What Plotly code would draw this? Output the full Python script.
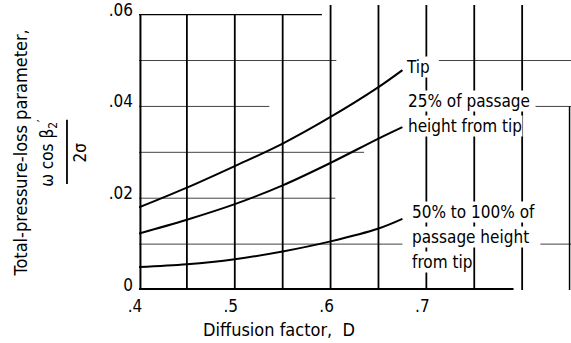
import plotly.graph_objects as go

# ---- data ----
D = [0.40, 0.45, 0.50, 0.55, 0.60, 0.65, 0.675]
tip = [0.0180, 0.0223, 0.0270, 0.0319, 0.0377, 0.0442, 0.0479]
p25 = [0.0123, 0.0153, 0.0187, 0.0228, 0.0277, 0.0330, 0.0355]
p50 = [0.0050, 0.0056, 0.0067, 0.0084, 0.0106, 0.0134, 0.0155]

x_ticks = [0.4, 0.5, 0.6, 0.7]
x_tick_text = [".4", ".5", ".6", ".7"]
y_ticks = [0, 0.02, 0.04, 0.06]
y_tick_text = ["0", ".02", ".04", ".06"]

# grid lines (value, segments)
h_grid = [
    (0.05, [(0.40, 0.606), (0.713, 0.851)]),
    (0.04, [(0.40, 0.536), (0.814, 0.851)]),
    (0.03, [(0.40, 0.635)]),
    (0.02, [(0.40, 0.605)]),
    (0.01, [(0.40, 0.675), (0.819, 0.851)]),
]
v_grid = [0.45, 0.50, 0.55, 0.60, 0.65, 0.70, 0.75, 0.80]

labels = [
    (0.6776, 0.0486, ["Tip"]),
    (0.680, 0.0384, ["25% of passage", "height from tip"]),
    (0.684, 0.01150, ["50% to 100% of", "passage height", "from tip"]),
]

FONT = "DejaVu Sans Condensed, Liberation Sans Narrow, Arial Narrow, sans-serif"
YMAX = 0.0621

fig = go.Figure()
for ys in (tip, p25, p50):
    fig.add_trace(go.Scatter(x=D, y=ys, mode="lines", line=dict(color="black", width=2, shape="spline"),
                             hoverinfo="skip", showlegend=False))

shapes = []
# horizontal grid
for yv, segs in h_grid:
    for x0, x1 in segs:
        shapes.append(dict(type="line", xref="x", yref="y", x0=x0, x1=x1, y0=yv, y1=yv,
                           line=dict(color="#444444", width=1), layer="below"))
# vertical grid
for xv in v_grid:
    top = 0.06 if xv < 0.6 else YMAX
    shapes.append(dict(type="line", xref="x", yref="y", x0=xv, x1=xv, y0=0, y1=top,
                       line=dict(color="black", width=1.8), layer="below"))
# right edge line
shapes.append(dict(type="line", xref="x", yref="y", x0=0.8495, x1=0.8495, y0=0, y1=0.04,
                   line=dict(color="black", width=1.5), layer="below"))
# left axis, top line, bottom axis
shapes.append(dict(type="line", xref="x", yref="y", x0=0.4015, x1=0.4015, y0=0, y1=0.06,
                   line=dict(color="black", width=2)))
shapes.append(dict(type="line", xref="x", yref="y", x0=0.40, x1=0.591, y0=0.06, y1=0.06,
                   line=dict(color="black", width=1.3)))
shapes.append(dict(type="line", xref="x", yref="y", x0=0.40, x1=0.791, y0=0.0002, y1=0.0002,
                   line=dict(color="black", width=2)))
# fraction bar of y-axis title
shapes.append(dict(type="line", xref="paper", yref="paper", x0=-0.1667, x1=-0.1667, y0=0.372, y1=0.597,
                   line=dict(color="black", width=1.8)))

annotations = []
for xl, yc, lines in labels:
    n = len(lines)
    for i, t in enumerate(lines):
        annotations.append(dict(x=xl, y=yc, xref="x", yref="y", text=t, showarrow=False,
                                xanchor="left", yanchor="middle", yshift=(n - 1) * 12.5 - i * 25,
                                font=dict(family=FONT, size=17, color="black"),
                                bgcolor="white", borderpad=0))

# y-axis title pieces
annotations.append(dict(x=-0.2755, y=0.4828, xref="paper", yref="paper", text="Total-pressure-loss parameter,",
                        textangle=-90, showarrow=False, xanchor="center", yanchor="middle",
                        font=dict(family=FONT, size=18, color="black")))
annotations.append(dict(x=-0.212, y=0.4828, xref="paper", yref="paper", text="ω cos β<sub>2</sub><sup>′</sup>",
                        textangle=-90, showarrow=False, xanchor="center", yanchor="middle",
                        font=dict(family=FONT, size=17, color="black")))
annotations.append(dict(x=-0.1366, y=0.4828, xref="paper", yref="paper", text="2σ",
                        textangle=-90, showarrow=False, xanchor="center", yanchor="middle",
                        font=dict(family=FONT, size=17, color="black")))
# x-axis title
annotations.append(dict(x=0.324, y=-0.138, xref="paper", yref="paper", text="Diffusion factor,  D",
                        showarrow=False, xanchor="center", yanchor="middle",
                        font=dict(family=FONT, size=18, color="black")))

fig.update_layout(
    width=571, height=343,
    margin=dict(l=139, r=0, t=0, b=53),
    plot_bgcolor="white", paper_bgcolor="white",
    shapes=shapes, annotations=annotations,
    xaxis=dict(range=[0.4, 0.851], tickvals=x_ticks, ticktext=x_tick_text, showgrid=False, zeroline=False,
               showline=False, ticks="", ticklabelshift=-4, ticklabelstandoff=4, ticklabeloverflow="allow",
               tickfont=dict(family=FONT, size=17, color="black"), fixedrange=True),
    yaxis=dict(range=[0, YMAX], tickvals=y_ticks, ticktext=y_tick_text, showgrid=False, zeroline=False,
               showline=False, ticks="", ticklabelshift=-5, ticklabelstandoff=5, ticklabeloverflow="allow",
               tickfont=dict(family=FONT, size=17, color="black"), fixedrange=True),
)

fig.write_html("out.html")
